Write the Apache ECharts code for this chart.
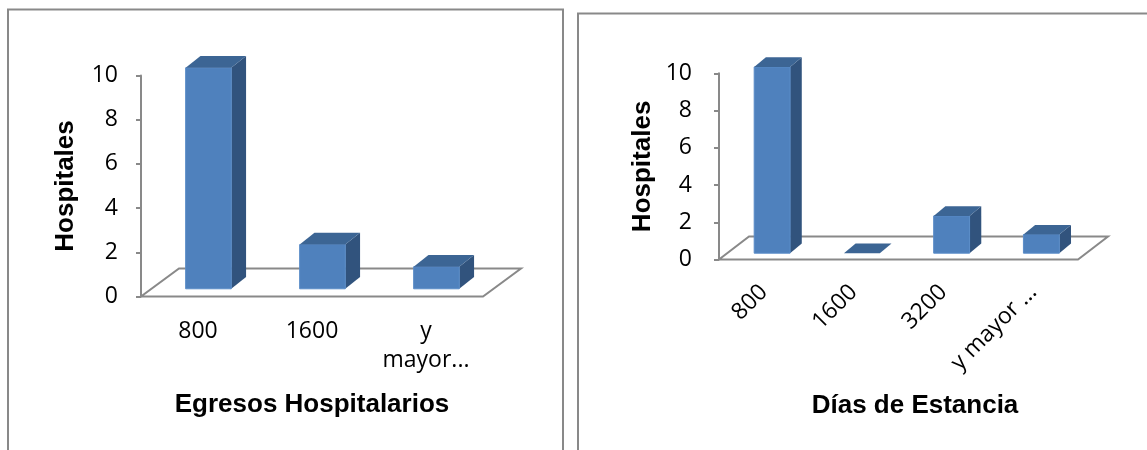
<!DOCTYPE html>
<html>
<head>
<meta charset="utf-8">
<script src="https://cdn.jsdelivr.net/npm/echarts@6/dist/echarts.min.js"></script>
<style>
  html, body { margin: 0; padding: 0; background: #ffffff; }
  #chart { width: 1147px; height: 450px; }
</style>
</head>
<body>
<div id="chart"></div>
<script>
// ---- data ----
const leftCategories = ['800', '1600', 'y mayor...'];
const leftValues = [10, 2, 1];
const rightCategories = ['800', '1600', '3200', 'y mayor ...'];
const rightValues = [10, 0, 2, 1];
const yMin = 0;
const yMax = 10;
const yInterval = 2;
const leftXTitle = 'Egresos Hospitalarios';
const rightXTitle = 'Días de Estancia';
const yTitle = 'Hospitales';

// ---- styles ----
const FRONT = '#4f81bd';
const TOP = '#3c6594';
const SIDE = '#31537d';
const GRAY = '#898989';
const TICK_FONT = 'Open Sans';
const TITLE_FONT = 'Liberation Sans';
const TICK_SIZE = 23;

function floorRender(dx, dy) {
  return function (params, api) {
    const cs = params.coordSys;
    const x0 = cs.x, x1 = cs.x + cs.width, y = cs.y + cs.height;
    return {
      type: 'polygon',
      shape: { points: [[x0, y], [x1, y], [x1 + dx, y - dy], [x0 + dx, y - dy]] },
      style: { fill: '#ffffff', stroke: GRAY, lineWidth: 2 }
    };
  };
}

function barRender(dx, dy) {
  return function (params, api) {
    const i = api.value(0), v = api.value(1);
    const p = api.coord([i, v]);
    const b = api.coord([i, 0]);
    const band = api.size([1, 0])[0];
    const w = band * 0.4;
    const ox = dx * 0.275, oy = dy * 0.275;
    const bx = dx * 0.39, by = dy * 0.42;
    const xl = p[0] - w / 2 + ox, xr = xl + w;
    const yt = p[1] - oy, yb = b[1] - oy;
    const children = [];
    if (yb - yt > 0.5) {
      children.push({
        type: 'polygon',
        shape: { points: [[xr, yt], [xr + bx, yt - by], [xr + bx, yb - by], [xr, yb]] },
        style: { fill: SIDE }
      });
      children.push({
        type: 'rect',
        shape: { x: xl, y: yt, width: w, height: yb - yt },
        style: { fill: FRONT, stroke: '#5a8cc8', lineWidth: 1 }
      });
    }
    children.push({
      type: 'polygon',
      shape: { points: [[xl, yt], [xr, yt], [xr + bx, yt - by], [xl + bx, yt - by]] },
      style: { fill: TOP }
    });
    return { type: 'group', children: children };
  };
}

function yAxisCfg(gridIndex, margin, nameGap) {
  return {
    type: 'value', gridIndex: gridIndex,
    min: yMin, max: yMax, interval: yInterval,
    axisLine: { show: true, lineStyle: { color: GRAY, width: 2 } },
    axisTick: { show: true, inside: false, length: 5, lineStyle: { color: GRAY, width: 2 } },
    splitLine: { show: false },
    axisLabel: { margin: margin, color: '#000', fontFamily: TICK_FONT, fontSize: TICK_SIZE },
    name: yTitle, nameLocation: 'middle', nameGap: nameGap, nameRotate: 90,
    nameTextStyle: { fontFamily: TITLE_FONT, fontWeight: 'bold', fontSize: 26, color: '#000', verticalAlign: 'middle' }
  };
}

const option = {
  animation: false,
  backgroundColor: '#ffffff',
  graphic: [
    { type: 'rect', shape: { x: 8, y: 9.5, width: 555, height: 470 }, style: { fill: 'none', stroke: GRAY, lineWidth: 2 }, silent: true },
    { type: 'rect', shape: { x: 578, y: 13.5, width: 620, height: 470 }, style: { fill: 'none', stroke: GRAY, lineWidth: 2 }, silent: true }
  ],
  grid: [
    { left: 141, top: 75.5, width: 342, height: 221 },
    { left: 719, top: 73.3, width: 359, height: 186.2 }
  ],
  xAxis: [
    {
      type: 'category', gridIndex: 0, data: leftCategories,
      axisLine: { show: false }, axisTick: { show: false },
      axisLabel: {
        interval: 0, margin: 20, color: '#000', fontFamily: TICK_FONT, fontSize: TICK_SIZE, lineHeight: 29,
        formatter: function (v) { return v.replace(' ', '\n'); }
      },
      name: leftXTitle, nameLocation: 'middle', nameGap: 108.5,
      nameTextStyle: { fontFamily: TITLE_FONT, fontWeight: 'bold', fontSize: 26, color: '#000', verticalAlign: 'middle' }
    },
    {
      type: 'category', gridIndex: 1, data: rightCategories,
      axisLine: { show: false }, axisTick: { show: false },
      axisLabel: { interval: 0, rotate: 45, margin: 29, color: '#000', fontFamily: TICK_FONT, fontSize: TICK_SIZE },
      name: rightXTitle, nameLocation: 'middle', nameGap: 146,
      nameTextStyle: { fontFamily: TITLE_FONT, fontWeight: 'bold', fontSize: 26, color: '#000', verticalAlign: 'middle', padding: [0, 0, 0, 33] }
    }
  ],
  yAxis: [yAxisCfg(0, 23, 75), yAxisCfg(1, 27, 76)],
  series: [
    { type: 'custom', xAxisIndex: 0, yAxisIndex: 0, data: [[0, 0]], renderItem: floorRender(38, 28), silent: true, z: 1, clip: false },
    { type: 'custom', xAxisIndex: 0, yAxisIndex: 0, data: leftValues.map(function (v, i) { return [i, v]; }), encode: { x: 0, y: 1 }, renderItem: barRender(38, 28), z: 3, clip: false },
    { type: 'custom', xAxisIndex: 1, yAxisIndex: 1, data: [[0, 0]], renderItem: floorRender(30, 23), silent: true, z: 1, clip: false },
    { type: 'custom', xAxisIndex: 1, yAxisIndex: 1, data: rightValues.map(function (v, i) { return [i, v]; }), encode: { x: 0, y: 1 }, renderItem: barRender(30, 23), z: 3, clip: false }
  ]
};

const chart = echarts.init(document.getElementById('chart'), null, { renderer: 'canvas' });
chart.setOption(option);
</script>
</body>
</html>
